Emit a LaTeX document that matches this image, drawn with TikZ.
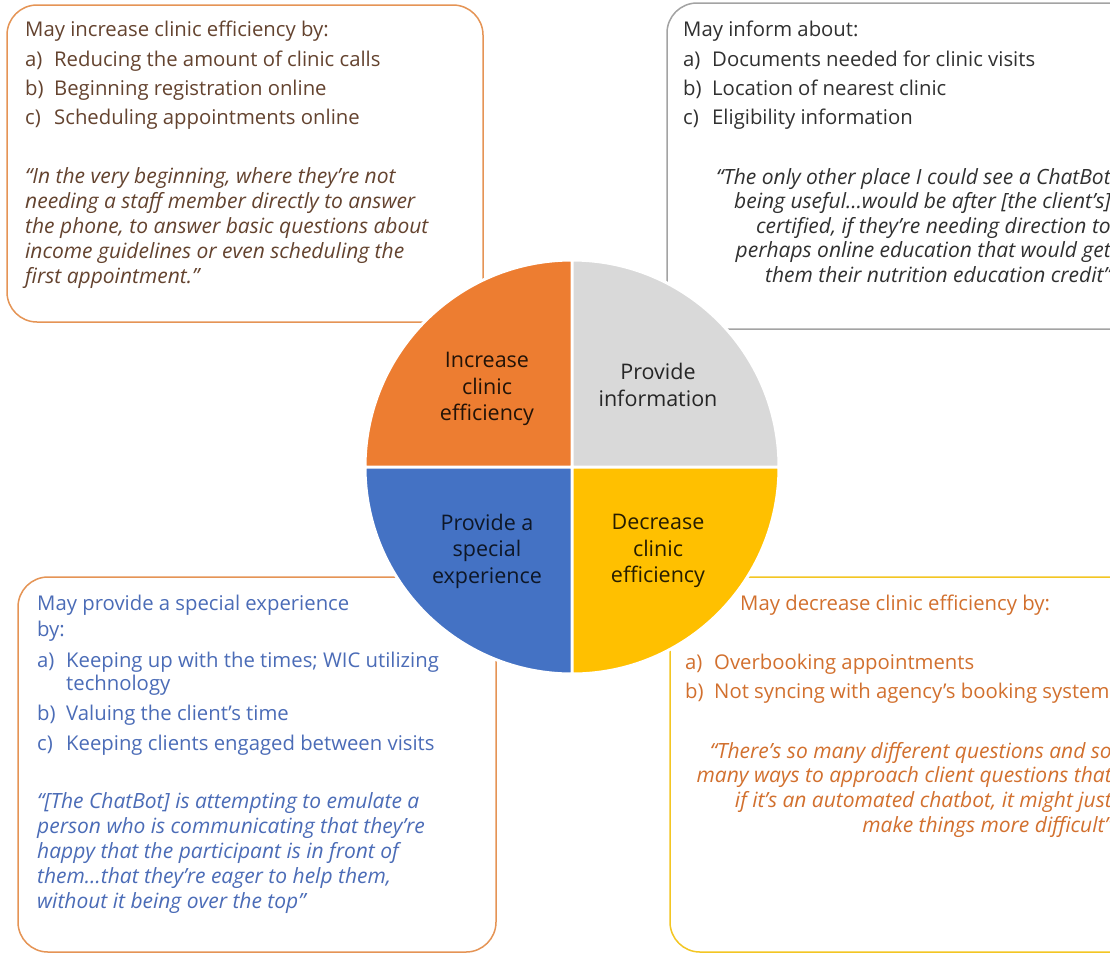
\documentclass[tikz,border=0pt]{standalone}
\usepackage{fontspec}
\setmainfont{Open Sans}
\usetikzlibrary{positioning}
\definecolor{wedgeorange}{HTML}{ED7D31}
\definecolor{wedgegray}{HTML}{D9D9D9}
\definecolor{wedgeblue}{HTML}{4472C4}
\definecolor{wedgegold}{HTML}{FFC000}
\definecolor{frameorange}{HTML}{E59455}
\definecolor{framegray}{HTML}{A3A3A3}
\definecolor{framegold}{HTML}{F3C623}
\definecolor{brownink}{HTML}{64432F}
\definecolor{grayink}{HTML}{303030}
\definecolor{blueink}{HTML}{4B6CB7}
\definecolor{orangeink}{HTML}{D2702E}
\tikzset{
  txt/.style={anchor=base west,inner sep=0pt,font=\fontsize{20.3}{24}\selectfont},
  qt/.style={txt,font=\fontsize{21}{25}\selectfont\itshape},
  qtr/.style={qt,anchor=base east},
  frame/.style={rounded corners=30pt,line width=1.5pt},
  lbl/.style={inner sep=0pt,align=center,font=\fontsize{21.5}{26.5}\selectfont},
}
\begin{document}
\begin{tikzpicture}[x=1pt,y=-1pt]
\useasboundingbox (0,0) rectangle (1110,954);
\clip (0,0) rectangle (1110,954);
\fill[white] (0,0) rectangle (1110,954);
% frames
\draw[frame,draw=frameorange] (7,5) rectangle (483,322);
\draw[frame,draw=framegray] (667,3) rectangle (1150,329);
\draw[frame,draw=frameorange] (18,577) rectangle (496,952);
\draw[frame,draw=framegold] (670,577) rectangle (1150,952);

\path[text=brownink]
(25,36) node[txt] (effHead) {May increase clinic efficiency by:}   % <<< box 1
(25,66) node[txt] (effA) {a)} ++(29,0) node[txt] {Reducing the amount of clinic calls}
(25,95) node[txt] (effB) {b)} ++(29,0) node[txt] {Beginning registration online}
(25,124) node[txt] (effC) {c)} ++(29,0) node[txt] {Scheduling appointments online}
(25,183) node[qt] (effQ1) {“In the very beginning, where they’re not}
++(0,25) node[qt] {needing a staff member directly to answer}
++(0,25) node[qt] {the phone, to answer basic questions about}
++(0,25) node[qt] {income guidelines or even scheduling the}
++(0,25) node[qt] {first appointment.”};

\path[text=grayink]
(683,36) node[txt] (infHead) {May inform about:}   % <<< box 2
(683,66) node[txt] (infA) {a)} ++(29,0) node[txt] {Documents needed for clinic visits}
(683,95) node[txt] (infB) {b)} ++(29,0) node[txt] {Location of nearest clinic}
(683,124) node[txt] (infC) {c)} ++(29,0) node[txt] {Eligibility information}
(1111,184) node[qtr] (infQ1) {“The only other place I could see a ChatBot}
++(0,24.5) node[qtr] {being useful…would be after [the client’s]}
++(0,24.5) node[qtr] {certified, if they’re needing direction to}
++(0,24.5) node[qtr] {perhaps online education that would get}
++(0,24.5) node[qtr] {them their nutrition education credit”};

\path[text=blueink]
(37,610) node[txt] (expHead) {May provide a special experience}   % <<< box 3
++(0,26) node[txt] {by:}
(37,667) node[txt] (expA) {a)} ++(29,0) node[txt] {Keeping up with the times; WIC utilizing}
++(0,23) node[txt] {technology}
(37,720) node[txt] (expB) {b)} ++(29,0) node[txt] {Valuing the client’s time}
(37,750) node[txt] (expC) {c)} ++(29,0) node[txt] {Keeping clients engaged between visits}
(37,808) node[qt] (expQ1) {“[The ChatBot] is attempting to emulate a}
++(0,25) node[qt] {person who is communicating that they’re}
++(0,25) node[qt] {happy that the participant is in front of}
++(0,25) node[qt] {them…that they’re eager to help them,}
++(0,25) node[qt] {without it being over the top"};

\path[text=orangeink]
(740,610) node[txt] (decHead) {May decrease clinic efficiency by:}   % <<< box 4
(685,669) node[txt] (decA) {a)} ++(29,0) node[txt] {Overbooking appointments}
(685,698) node[txt] (decB) {b)} ++(29,0) node[txt] {Not syncing with agency’s booking system}
(1112,758) node[qtr] (decQ1) {“There’s so many different questions and so}
++(0,24.7) node[qtr] {many ways to approach client questions that}
++(0,24.7) node[qtr] {if it’s an automated chatbot, it might just}
++(0,24.7) node[qtr] {make things more difficult”};

% wheel
\coordinate (hub) at (572,467);
\fill[wedgeorange] (hub) -- ++(180:207) arc[start angle=180,end angle=270,radius=207] -- cycle;
\fill[wedgegray] (hub) -- ++(270:207) arc[start angle=270,end angle=360,radius=207] -- cycle;
\fill[wedgegold] (hub) -- ++(0:207) arc[start angle=0,end angle=90,radius=207] -- cycle;
\fill[wedgeblue] (hub) -- ++(90:207) arc[start angle=90,end angle=180,radius=207] -- cycle;
\draw[white,line width=3pt] (hub) circle[radius=207]
  (hub) ++(-207,0) -- ++(414,0) (hub) ++(0,-207) -- ++(0,414);

\node[lbl,text=black!85!wedgeorange] (increase) at (487,389) {Increase\\clinic\\efficiency};
\node[lbl,text=black!85] (provide) at (658,385) {Provide\\information};
\node[lbl,text=black!80!wedgeblue] (special) at (487,551) {Provide a\\special\\experience};
\node[lbl,text=black!85!wedgegold] (decrease) at (658,551) {Decrease\\clinic\\efficiency};
\end{tikzpicture}
\end{document}
